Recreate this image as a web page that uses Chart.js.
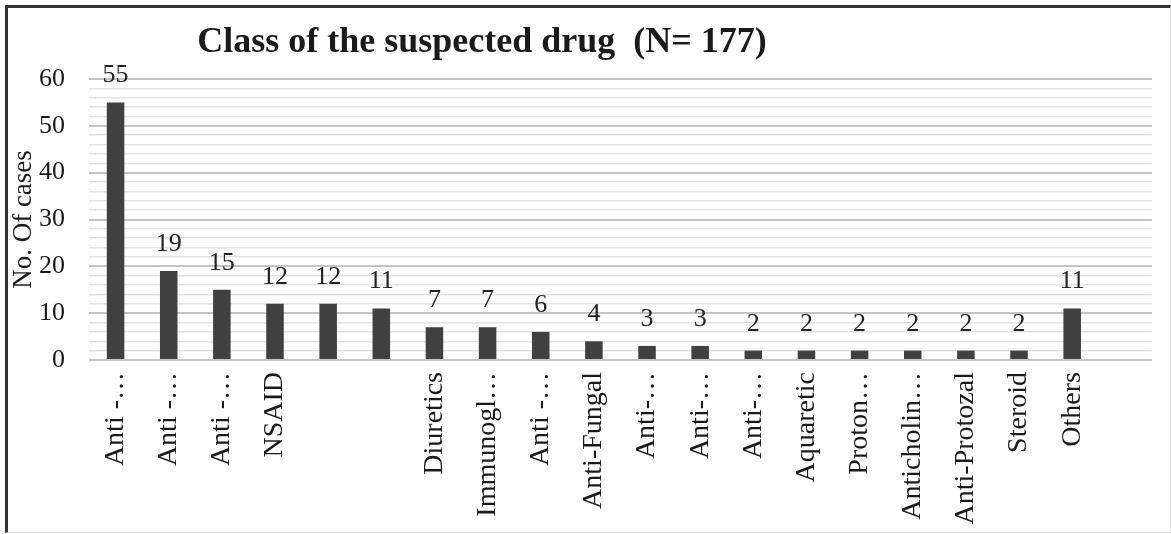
<!DOCTYPE html>
<html>
<head>
<meta charset="utf-8">
<script src="https://cdn.jsdelivr.net/npm/chart.js@4"></script>
<style>
  body { margin: 0; background: #fff; }
  #wrap { position: relative; width: 1171px; height: 534px; }
  #frame {
    position: absolute; left: 5px; top: 5px; width: 1162px; height: 524px;
    border-top: 3px solid #333; border-left: 3px solid #333;
    border-right: 1px solid #ddd; border-bottom: 1px solid #ddd;
    pointer-events: none;
  }
</style>
</head>
<body>
<div id="wrap">
  <canvas id="chart" width="1171" height="534"></canvas>
  <div id="frame"></div>
</div>
<script>
// drug classes as printed on the axis (last slot is the empty spare column)
const categories = [
  "Anti -…", "Anti -…", "Anti -…", "NSAID", "", "", "Diuretics", "Immunogl…",
  "Anti -…", "Anti-Fungal", "Anti-…", "Anti-…", "Anti-…", "Aquaretic",
  "Proton…", "Anticholin…", "Anti-Protozal", "Steroid", "Others", ""
];
const cases = [55, 19, 15, 12, 12, 11, 7, 7, 6, 4, 3, 3, 2, 2, 2, 2, 2, 2, 11, null];
const yMax = 60;
const titleText = "Class of the suspected drug  (N= 177)";

const serif = "'Liberation Serif', 'Times New Roman', serif";

const valueLabels = {
  id: "valueLabels",
  afterDatasetsDraw: chart => {
    const ctx = chart.ctx;
    const meta = chart.getDatasetMeta(0);
    ctx.save();
    ctx.font = "26px " + serif;
    ctx.fillStyle = "#222";
    ctx.textAlign = "center";
    ctx.textBaseline = "alphabetic";
    meta.data.forEach((bar, i) => {
      if (cases[i] == null) return;
      ctx.fillText(String(cases[i]), bar.x, bar.y - 20);
    });
    ctx.restore();
  }
};

const chartTitle = {
  id: "chartTitle",
  afterDraw: chart => {
    const ctx = chart.ctx;
    ctx.save();
    ctx.font = "bold 36px " + serif;
    ctx.fillStyle = "#1a1a1a";
    ctx.textAlign = "center";
    ctx.fillText(titleText, 482, 52);
    ctx.restore();
  }
};

const chartCtx = document.getElementById("chart").getContext("2d");

new Chart(chartCtx, {
  type: "bar",
  data: {
    labels: categories,
    datasets: [
      {
        label: "No. Of cases",
        data: cases,
        backgroundColor: "#404040",
        barPercentage: 0.33,
        categoryPercentage: 1
      }
    ]
  },
  options: {
    responsive: false,
    animation: false,
    layout: { padding: { top: 79, right: 3, left: 0, bottom: 0 } },
    plugins: {
      legend: { display: false },
      tooltip: { enabled: false }
    },
    scales: {
      x: {
        grid: { display: false, drawTicks: false },
        border: { display: false },
        ticks: {
          autoSkip: false,
          minRotation: 90,
          maxRotation: 90,
          padding: 12,
          color: "#1a1a1a",
          font: { family: serif, size: 28 }
        },
        afterFit: scale => { scale.height = 174; }
      },
      y: {
        min: 0,
        max: yMax,
        border: { display: false },
        grid: {
          drawTicks: false,
          color: c => (c.tick.value % 10 === 0 ? "#c4c4c4" : "#e3e3e3"),
          lineWidth: c => (c.tick.value % 10 === 0 ? 2 : 1.5)
        },
        ticks: {
          stepSize: 2,
          autoSkip: false,
          padding: 24,
          color: "#1a1a1a",
          font: { family: serif, size: 26 },
          callback: v => (v % 10 === 0 ? v : "")
        },
        title: {
          display: true,
          text: "No. Of cases",
          color: "#1a1a1a",
          padding: { top: 8, bottom: 0 },
          font: { family: serif, size: 27 }
        },
        afterFit: scale => { scale.width = 89; }
      }
    }
  },
  plugins: [valueLabels, chartTitle]
});
</script>
</body>
</html>
